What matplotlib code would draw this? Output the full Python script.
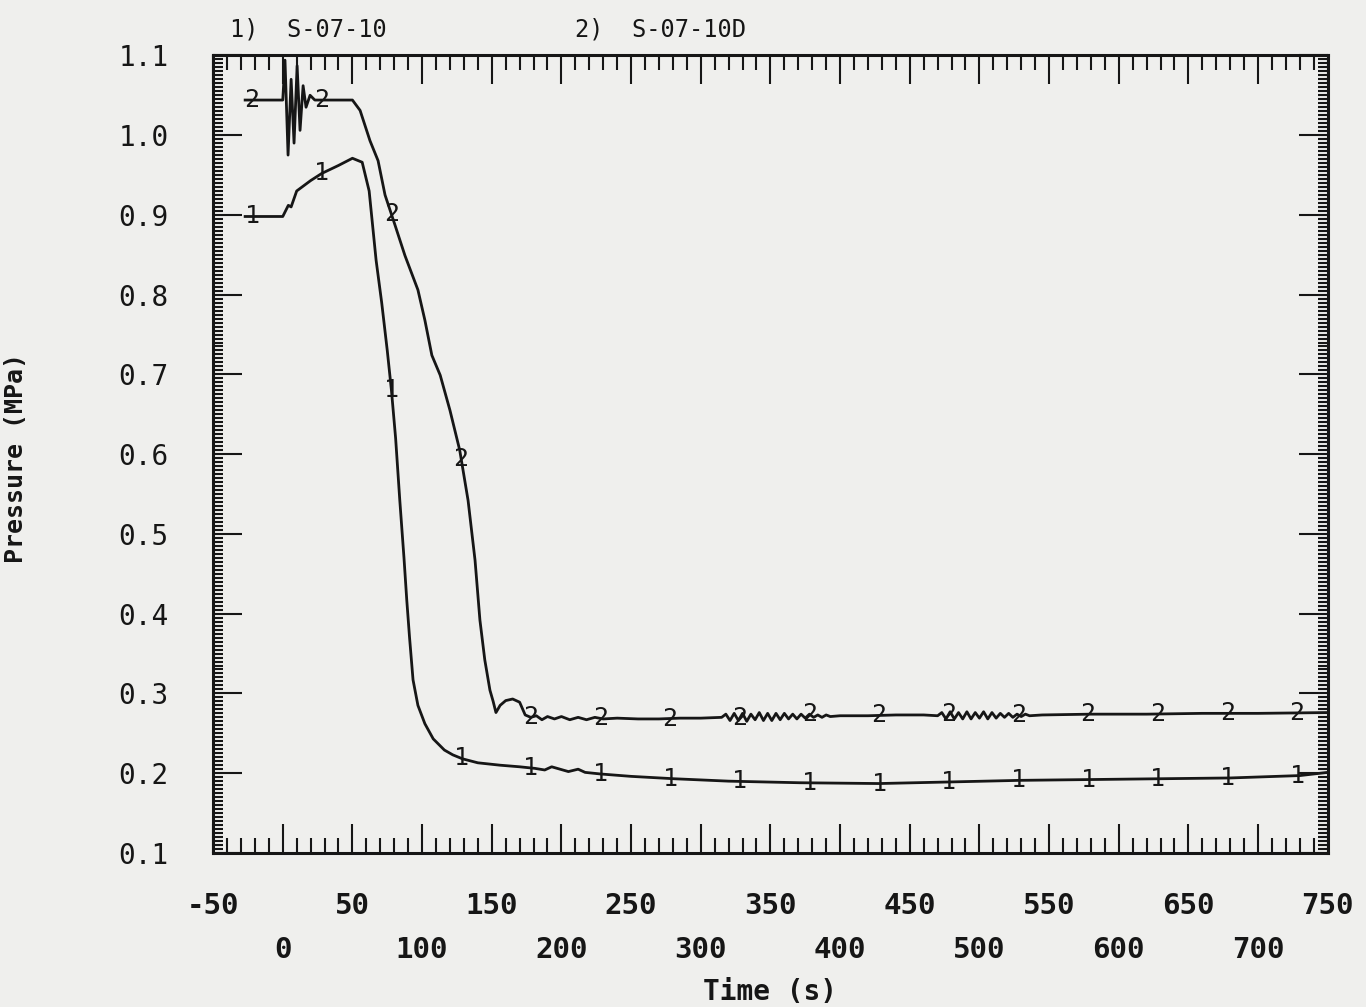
import numpy as np
import matplotlib
matplotlib.use("Agg")
import matplotlib.pyplot as plt
from matplotlib.ticker import MultipleLocator

# ── DATA ──────────────────────────────────────────────────────────────────────
series_names = ["S-07-10", "S-07-10D"]

# 1) S-07-10
t1 = [-27, 0, 2, 4, 6, 10, 20, 28, 40, 50, 57, 62, 67, 71, 75, 78, 81, 84,
      87, 89, 91, 93.5, 97, 102, 108, 116, 122, 129, 140, 156, 170, 181, 188,
      193, 199, 205, 212, 217, 228, 250, 281, 320, 371, 428, 479, 529, 579,
      629, 680, 730, 750]
p1 = [0.898, 0.898, 0.905, 0.912, 0.910, 0.930, 0.943, 0.952, 0.962, 0.971,
      0.966, 0.930, 0.843, 0.790, 0.730, 0.680, 0.620, 0.542, 0.470, 0.417,
      0.370, 0.317, 0.285, 0.262, 0.243, 0.229, 0.223, 0.218, 0.213, 0.210,
      0.208, 0.206, 0.204, 0.208, 0.205, 0.202, 0.205, 0.201, 0.199, 0.196,
      0.193, 0.190, 0.188, 0.187, 0.189, 0.191, 0.192, 0.193, 0.194, 0.197,
      0.201]

# 2) S-07-10D
t2 = [-27, -10, 0, 1.6, 3.8, 6.0, 8.1, 10.3, 12.4, 14.6, 16.7, 19.6, 23, 35,
      50, 55.5, 62.6, 68.4, 73.4, 80.6, 87.7, 97, 102, 107, 113, 120, 127,
      133, 138, 141.5, 145, 148.7, 151, 153, 156, 160, 165, 170, 174, 178,
      182, 186, 190, 195, 200, 206, 212, 218, 224, 230, 240, 255, 270, 285,
      300, 315,
      318, 321, 324, 327, 330, 333, 336, 339, 342, 345, 348, 351, 354, 357,
      360, 363, 366, 369, 372, 375, 378, 381, 384, 387, 390, 393,
      400, 420, 440, 460, 470,
      473, 476, 479, 482, 485, 488, 491, 494, 497, 500, 503, 506, 509, 512,
      515, 518, 521, 524, 527, 530, 533, 536,
      545, 580, 620, 660, 700, 750]
p2 = [1.044, 1.044, 1.044, 1.094, 0.975, 1.070, 0.990, 1.087, 1.006, 1.062,
      1.035, 1.050, 1.044, 1.044, 1.044, 1.031, 0.993, 0.968, 0.925, 0.887,
      0.849, 0.806, 0.768, 0.724, 0.699, 0.655, 0.605, 0.542, 0.467, 0.392,
      0.342, 0.304, 0.290, 0.276, 0.285, 0.291, 0.293, 0.289, 0.273, 0.270,
      0.272, 0.267, 0.271, 0.268, 0.271, 0.267, 0.270, 0.267, 0.270, 0.268,
      0.269, 0.268, 0.268, 0.269, 0.269, 0.270,
      0.274, 0.266, 0.275, 0.266, 0.275, 0.265, 0.274, 0.267, 0.276, 0.266,
      0.275, 0.266, 0.275, 0.267, 0.275, 0.268, 0.274, 0.268, 0.274, 0.269,
      0.274, 0.270, 0.273, 0.270, 0.273, 0.271,
      0.272, 0.272, 0.273, 0.273, 0.272,
      0.276, 0.268, 0.277, 0.268, 0.276, 0.268, 0.277, 0.268, 0.276, 0.269,
      0.277, 0.268, 0.276, 0.269, 0.275, 0.270, 0.275, 0.270, 0.274, 0.271,
      0.274, 0.272,
      0.273, 0.274, 0.274, 0.275, 0.275, 0.276]

# times where the curve id digits are printed
mark_times = [-22, 28, 78, 128, 178, 228, 278, 328, 378, 428, 478, 528, 578,
              628, 678, 728]

x_ticks = [-50, 0, 50, 100, 150, 200, 250, 300, 350, 400, 450, 500, 550, 600,
           650, 700, 750]
y_ticks = [0.1, 0.2, 0.3, 0.4, 0.5, 0.6, 0.7, 0.8, 0.9, 1.0, 1.1]

# ── STYLE ─────────────────────────────────────────────────────────────────────
BG = '#efefed'
INK = '#161616'
MONO = 'DejaVu Sans Mono'

fig = plt.figure(figsize=(13.66, 10.07), dpi=100)
fig.patch.set_facecolor(BG)
ax = fig.add_axes([0.156, 0.153, 0.816, 0.792])
ax.set_facecolor(BG)

ax.plot(t1, p1, color=INK, lw=2.0, zorder=3)
ax.plot(t2, p2, color=INK, lw=2.0, zorder=3)

for lab, tt, pp in [('1', t1, p1), ('2', t2, p2)]:
    for mt, mp in zip(mark_times, np.interp(mark_times, tt, pp)):
        ax.text(mt, mp, lab, ha='center', va='center', fontsize=18,
                family=MONO, color=INK, zorder=4)

ax.set_xlim(-50, 750)
ax.set_ylim(0.1, 1.1)

# axes: ticks inside on all four sides
ax.set_xticks(x_ticks)
ax.set_xticklabels([str(v) if i % 2 == 0 else '\n' + str(v)
                    for i, v in enumerate(x_ticks)])
ax.xaxis.set_minor_locator(MultipleLocator(10))
ax.set_yticks(y_ticks)
ax.set_yticklabels([f'{v:.1f}' for v in y_ticks])
ax.yaxis.set_minor_locator(MultipleLocator(0.005))

ax.tick_params(which='both', direction='in', top=True, right=True,
               color=INK, width=1.5)
ax.tick_params(axis='x', which='major', length=21, pad=28, labelsize=21,
               labelcolor=INK)
ax.tick_params(axis='x', which='minor', length=11)
ax.tick_params(axis='y', which='major', length=21, pad=32, labelsize=20,
               labelcolor=INK)
ax.tick_params(axis='y', which='minor', length=7)

for lbl in ax.get_xticklabels():
    lbl.set_family(MONO)
    lbl.set_fontweight('bold')
    lbl.set_linespacing(1.75)
for lbl in ax.get_yticklabels():
    lbl.set_family(MONO)

for spine in ax.spines.values():
    spine.set_linewidth(2.2)
    spine.set_edgecolor(INK)

ax.set_xlabel('Time (s)', family=MONO, fontweight='bold', fontsize=20,
              color=INK, va='center')
ax.xaxis.set_label_coords(0.5, -0.174)
ax.set_ylabel('Pressure (MPa)', family=MONO, fontweight='bold', fontsize=18,
              color=INK)
ax.yaxis.set_label_coords(-0.166, 0.495)

# series identification line above the frame
ax.text(0.015, 1.017, f'1)  {series_names[0]}', transform=ax.transAxes,
        family=MONO, fontsize=17, color=INK, va='bottom', ha='left')
ax.text(0.325, 1.017, f'2)  {series_names[1]}', transform=ax.transAxes,
        family=MONO, fontsize=17, color=INK, va='bottom', ha='left')

fig.savefig('out.png', dpi=100, facecolor=fig.get_facecolor())
